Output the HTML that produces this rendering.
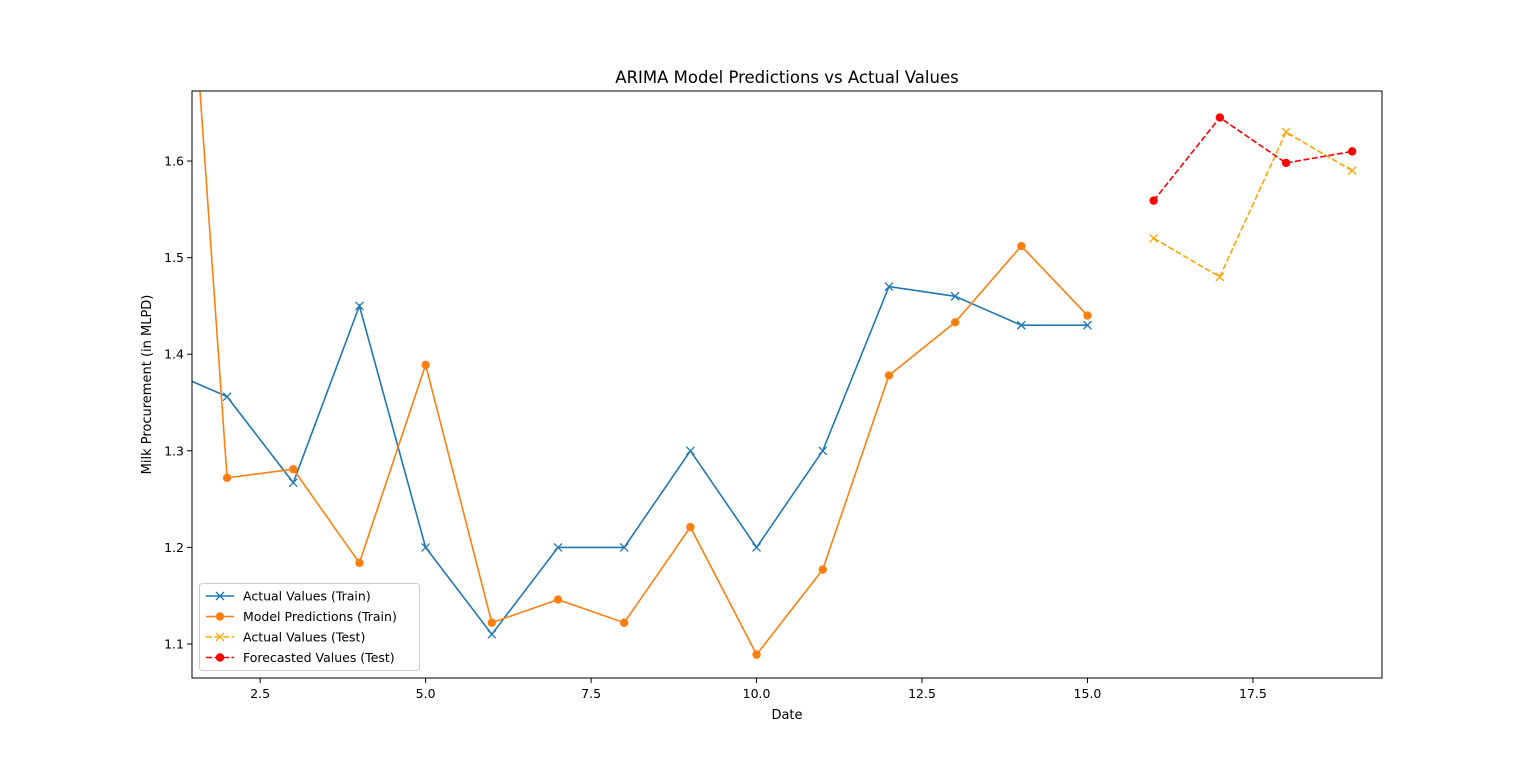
<!DOCTYPE html>
<html><head><meta charset="utf-8"><style>
html,body{margin:0;padding:0;background:#fff;}
svg text{font-family:"DejaVu Sans","Liberation Sans",sans-serif;fill:#000;}
</style></head><body>
<svg id="chart" width="1536" height="762" xmlns="http://www.w3.org/2000/svg"></svg>
<script>
const trainX = [1,2,3,4,5,6,7,8,9,10,11,12,13,14,15];
const actualTrain = [1.386,1.356,1.267,1.45,1.2,1.11,1.2,1.2,1.3,1.2,1.3,1.47,1.46,1.43,1.43];
const predTrain = [2.25,1.272,1.281,1.184,1.389,1.122,1.146,1.122,1.221,1.089,1.177,1.378,1.433,1.512,1.44];
const testX = [16,17,18,19];
const actualTest = [1.52,1.48,1.63,1.59];
const forecastTest = [1.559,1.645,1.598,1.61];
const xTicks = [2.5,5.0,7.5,10.0,12.5,15.0,17.5];
const yTicks = [1.1,1.2,1.3,1.4,1.5,1.6];

const L=192,R=1382,T=91,B=678;
const XMIN=1.47,XMAX=19.45,YMIN=1.0648,YMAX=1.6725;
const sx=v=>L+(v-XMIN)/(XMAX-XMIN)*(R-L);
const sy=v=>B-(v-YMIN)/(YMAX-YMIN)*(B-T);
const svg=document.getElementById('chart');
const NS='http://www.w3.org/2000/svg';
function mk(tag,attrs,parent){const e=document.createElementNS(NS,tag);for(const k in attrs)e.setAttribute(k,attrs[k]);(parent||svg).appendChild(e);return e;}

const defs=mk('defs',{});
const cp=mk('clipPath',{id:'clip'},defs);
mk('rect',{x:L,y:T,width:R-L,height:B-T},cp);

// title
let t=mk('text',{x:(L+R)/2,y:83,'text-anchor':'middle','font-size':'16.5'});
t.textContent='ARIMA Model Predictions vs Actual Values';



// ticks
xTicks.forEach(v=>{
  const x=sx(v);
  const l=mk('line',{x1:x,x2:x,y1:B,y2:B+5,stroke:'#000','stroke-width':1});
  
  
  const tx=mk('text',{x:x,y:B+20,'text-anchor':'middle','font-size':'12.5'});
  tx.textContent=v.toFixed(1);
  
  
});
yTicks.forEach(v=>{
  const y=sy(v);
  const l=mk('line',{x1:L-5,x2:L,y1:y,y2:y,stroke:'#000','stroke-width':1});
  
  
  const tx=mk('text',{x:L-8,y:y+4.5,'text-anchor':'end','font-size':'12.5'});
  tx.textContent=v.toFixed(1);
  
  
});
t=mk('text',{x:(L+R)/2,y:719,'text-anchor':'middle','font-size':'13'});
t.textContent='Date';


t=mk('text',{x:0,y:0,'text-anchor':'middle','font-size':'13',transform:`translate(151,${(T+B)/2}) rotate(-90)`});
t.textContent='Milk Procurement (in MLPD)';



function marker(g,x,y,type,color){
  if(type==='x'){
    mk('path',{d:`M${x-4},${y-4}L${x+4},${y+4}M${x-4},${y+4}L${x+4},${y-4}`,stroke:color,'stroke-width':1.3,fill:'none'},g);
  } else {
    mk('circle',{cx:x,cy:y,r:4.2,fill:color},g);
  }
}
function series(xs,ys,color,type,dash,name){
  const g=mk('g',{'clip-path':'url(#clip)'});
  
  
  const pts=xs.map((x,i)=>sx(x).toFixed(1)+','+sy(ys[i]).toFixed(1)).join(' ');
  const a={points:pts,fill:'none',stroke:color,'stroke-width':1.6};
  if(dash)a['stroke-dasharray']='6,2.5';
  mk('polyline',a,g);
  xs.forEach((x,i)=>marker(g,sx(x),sy(ys[i]),type,color));
}
series(trainX,actualTrain,'#1f77b4','x',false,'actual-train-series');
series(trainX,predTrain,'#ff7f0e','o',false,'predictions-train-series');
series(testX,actualTest,'#ffa500','x',true,'actual-test-series');
series(testX,forecastTest,'#ff0000','o',true,'forecast-test-series');

// frame
const fr=mk('rect',{x:L,y:T,width:R-L,height:B-T,fill:'none',stroke:'#000','stroke-width':1});



// legend
const lg=mk('g',{});


mk('rect',{x:199.5,y:583.5,width:220,height:87,rx:3,fill:'#fff',stroke:'#ccc','stroke-width':1},lg);
const items=[['Actual Values (Train)','#1f77b4','x',false],['Model Predictions (Train)','#ff7f0e','o',false],['Actual Values (Test)','#ffa500','x',true],['Forecasted Values (Test)','#ff0000','o',true]];
items.forEach((it,i)=>{
  const y=596+i*20.5;
  const g=mk('g',{},lg);
  
  
  const a={x1:206,x2:234,y1:y,y2:y,stroke:it[1],'stroke-width':1.6};
  if(it[3])a['stroke-dasharray']='6,2.5';
  mk('line',a,g);
  marker(g,220,y,it[2],it[1]);
  const tx=mk('text',{x:243,y:y+4.5,'font-size':'12.5'},g);
  tx.textContent=it[0];
});
</script>
</body></html>
